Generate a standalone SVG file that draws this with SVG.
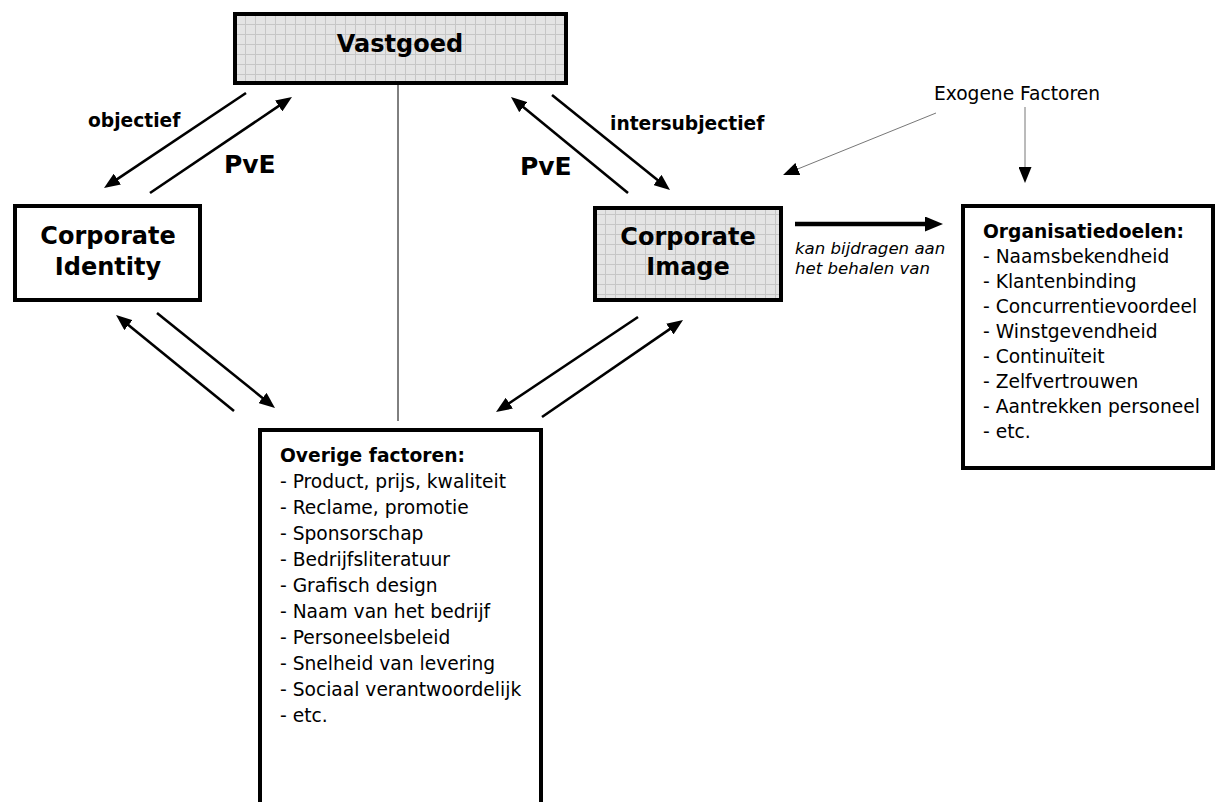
<svg xmlns="http://www.w3.org/2000/svg" width="1217" height="802" viewBox="0 0 1217 802">
<style>
.box{stroke:#000;stroke-width:4}
.grid{fill:url(#grid)}
.plain{fill:#fff}
.t{font-family:"DejaVu Sans","Liberation Sans",sans-serif;fill:#000}
.big{font-size:24px;font-weight:bold}
.lbl{font-size:18.67px;font-weight:bold}
.pve{font-size:25px;font-weight:bold}
.list{font-size:18.67px}
.it{font-size:16.6px;font-style:italic}
.arr{stroke:#000;stroke-width:2.6;fill:none;marker-end:url(#ah)}
.thick{stroke:#000;stroke-width:4.5;fill:none;marker-end:url(#ahb)}
.thin{stroke:#777;stroke-width:1;fill:none;marker-end:url(#ah)}
</style>
<defs>
<pattern id="grid" patternUnits="userSpaceOnUse" x="235" y="14" width="10" height="10">
<rect width="10" height="10" fill="#e4e4e4"/>
<path d="M0,0.5 H10 M0.5,0 V10" stroke="#c6c6c6" stroke-width="1"/>
</pattern>
<marker id="ah" markerUnits="userSpaceOnUse" markerWidth="16" markerHeight="13" refX="10" refY="6.5" orient="auto">
<path d="M0,0 L16,6.5 L0,13 z" fill="#000"/>
</marker>
<marker id="ahb" markerUnits="userSpaceOnUse" markerWidth="18" markerHeight="15" refX="11" refY="7.5" orient="auto">
<path d="M0,0 L18,7.5 L0,15 z" fill="#000"/>
</marker>
</defs>
<rect width="1217" height="802" fill="#fff"/>

<g id="connectors">
<line x1="398" y1="85" x2="398" y2="421" stroke="#000" stroke-width="1"/>
<line class="arr" x1="246" y1="93" x2="109" y2="184.7"/>
<line class="arr" x1="150" y1="193" x2="287" y2="100.4"/>
<line class="arr" x1="628" y1="193" x2="515.6" y2="100.8"/>
<line class="arr" x1="552" y1="95" x2="665.3" y2="186.2"/>
<line class="arr" x1="234" y1="411" x2="120.7" y2="318.8"/>
<line class="arr" x1="157" y1="313" x2="270.3" y2="404.2"/>
<line class="arr" x1="638" y1="317" x2="501" y2="408.7"/>
<line class="arr" x1="542" y1="417" x2="678.1" y2="323.4"/>
<line class="thick" x1="795" y1="224" x2="936" y2="224"/>
<line class="thin" x1="936" y1="113" x2="788.6" y2="172.7"/>
<line class="thin" x1="1025" y1="107" x2="1025" y2="177"/>
</g>

<g id="labels">
<text class="t lbl" x="88" y="127">objectief</text>
<text class="t pve" x="224" y="173">PvE</text>
<text class="t lbl" x="610" y="130">intersubjectief</text>
<text class="t pve" x="520" y="175">PvE</text>
<text class="t list" x="1017" y="100" text-anchor="middle">Exogene Factoren</text>
<text class="t it" x="795" y="254">kan bijdragen aan</text>
<text class="t it" x="795" y="274">het behalen van</text>
</g>

<g id="vastgoed">
<rect class="box grid" x="235" y="14" width="331" height="69"/>
<text class="t big" x="400" y="52" text-anchor="middle">Vastgoed</text>
</g>

<g id="corporate-identity">
<rect class="box plain" x="15" y="206" width="185" height="94"/>
<text class="t big" x="108" y="244" text-anchor="middle">Corporate</text>
<text class="t big" x="108" y="275" text-anchor="middle">Identity</text>
</g>

<g id="corporate-image">
<rect class="box grid" x="595" y="208" width="186" height="92"/>
<text class="t big" x="688" y="245" text-anchor="middle">Corporate</text>
<text class="t big" x="688" y="275" text-anchor="middle">Image</text>
</g>

<g id="organisatiedoelen">
<rect class="box plain" x="963" y="206" width="250" height="262"/>
<text class="t lbl" x="983" y="238">Organisatiedoelen:</text>
<text class="t list" x="983" y="263">- Naamsbekendheid</text>
<text class="t list" x="983" y="288">- Klantenbinding</text>
<text class="t list" x="983" y="313">- Concurrentievoordeel</text>
<text class="t list" x="983" y="338">- Winstgevendheid</text>
<text class="t list" x="983" y="363">- Continuïteit</text>
<text class="t list" x="983" y="388">- Zelfvertrouwen</text>
<text class="t list" x="983" y="413">- Aantrekken personeel</text>
<text class="t list" x="983" y="438">- etc.</text>
</g>

<g id="overige-factoren">
<rect class="box plain" x="260" y="430" width="281" height="400"/>
<text class="t lbl" x="280" y="462">Overige factoren:</text>
<text class="t list" x="280" y="488">- Product, prijs, kwaliteit</text>
<text class="t list" x="280" y="514">- Reclame, promotie</text>
<text class="t list" x="280" y="540">- Sponsorschap</text>
<text class="t list" x="280" y="566">- Bedrijfsliteratuur</text>
<text class="t list" x="280" y="592">- Grafisch design</text>
<text class="t list" x="280" y="618">- Naam van het bedrijf</text>
<text class="t list" x="280" y="644">- Personeelsbeleid</text>
<text class="t list" x="280" y="670">- Snelheid van levering</text>
<text class="t list" x="280" y="696">- Sociaal verantwoordelijk</text>
<text class="t list" x="280" y="722">- etc.</text>
</g>
</svg>
